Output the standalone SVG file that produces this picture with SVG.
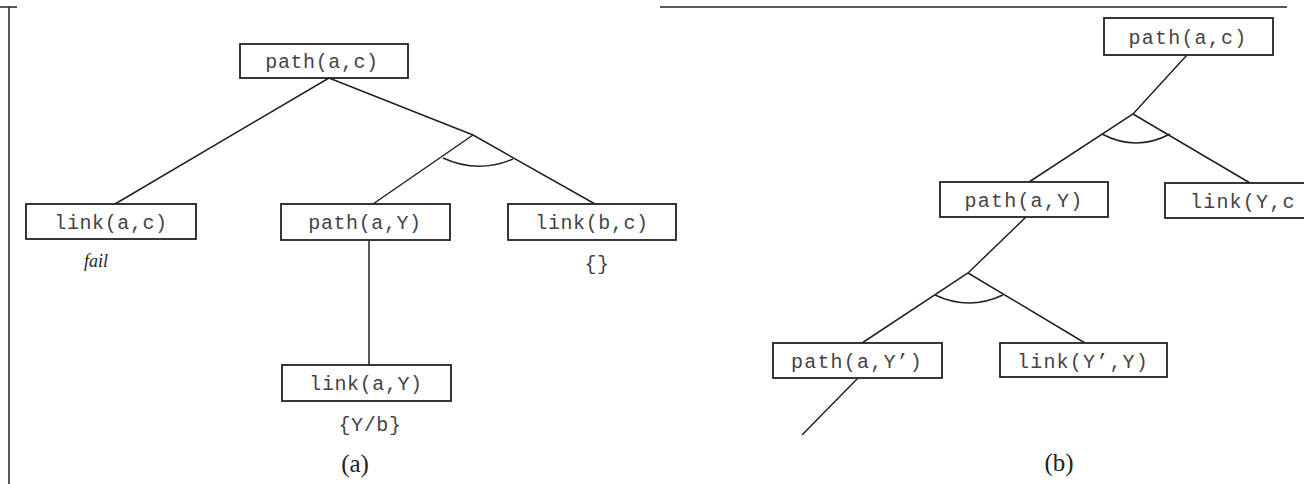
<svg xmlns="http://www.w3.org/2000/svg" width="1304" height="484" viewBox="0 0 1304 484">
<style>
.box{fill:#fff;stroke:#222;stroke-width:1.8}
.ln{fill:none;stroke:#222;stroke-width:1.5}
.t{font-family:"Liberation Mono","DejaVu Sans Mono",monospace;font-size:20px;fill:#444;text-anchor:middle;letter-spacing:0.6px}
.tb{letter-spacing:1.2px}
.lab{font-family:"Liberation Serif",serif;font-size:25px;fill:#222;text-anchor:middle}
.it{font-family:"Liberation Serif",serif;font-style:italic;font-size:18px;fill:#222;text-anchor:middle}
</style>
<rect width="1304" height="484" fill="#fff"/>
<g id="frame" class="ln">
<line x1="9" y1="7" x2="9" y2="484"/>
<line x1="0" y1="7" x2="17" y2="7"/>
<line x1="660" y1="7" x2="1287" y2="7"/>
</g>
<g id="connectors" class="ln">
<line x1="329" y1="78" x2="115" y2="204"/>
<polyline points="329,78 473,135 595,204"/>
<line x1="473" y1="135" x2="373" y2="204"/>
<path d="M443,158 Q478,174 513,159"/>
<line x1="369" y1="240" x2="369" y2="365"/>
<polyline points="1187,55 1133,114 1029,182"/>
<line x1="1133" y1="114" x2="1250" y2="183"/>
<path d="M1102,134 Q1136,152 1170,134"/>
<polyline points="1026,217 968,273 862,343"/>
<line x1="968" y1="273" x2="1085" y2="343"/>
<path d="M935,295 Q969,311 1003,295"/>
<line x1="858" y1="378" x2="802" y2="435"/>
</g>
<g id="a-path-ac"><rect class="box" x="240" y="44" width="168" height="34"/><text class="t" x="322" y="68">path(a,c)</text></g>
<g id="a-link-ac"><rect class="box" x="26" y="204" width="170" height="35"/><text class="t" x="111" y="229">link(a,c)</text><text class="it" x="96" y="267">fail</text></g>
<g id="a-path-aY"><rect class="box" x="281" y="204" width="169" height="36"/><text class="t" x="365" y="229">path(a,Y)</text></g>
<g id="a-link-bc"><rect class="box" x="508" y="204" width="168" height="36"/><text class="t" x="592" y="229">link(b,c)</text><text class="t" x="597" y="270">{}</text></g>
<g id="a-link-aY"><rect class="box" x="282" y="365" width="169" height="36"/><text class="t" x="366" y="390">link(a,Y)</text><text class="t" x="370" y="431">{Y/b}</text></g>
<g id="b-path-ac"><rect class="box" x="1104" y="18" width="169" height="37"/><text class="t tb" x="1188" y="44">path(a,c)</text></g>
<g id="b-path-aY"><rect class="box" x="940" y="182" width="168" height="35"/><text class="t tb" x="1024" y="207">path(a,Y)</text></g>
<g id="b-link-Yc"><rect class="box" x="1165" y="183" width="160" height="35"/><text class="t tb" x="1190" y="208" style="text-anchor:start">link(Y,c</text></g>
<g id="b-path-aY2"><rect class="box" x="773" y="343" width="169" height="35"/><text class="t tb" x="857" y="368">path(a,Y’)</text></g>
<g id="b-link-Y2Y"><rect class="box" x="1000" y="343" width="167" height="34"/><text class="t tb" x="1083" y="368">link(Y’,Y)</text></g>
<text class="lab" x="355" y="472">(a)</text>
<text class="lab" x="1059" y="471">(b)</text>
</svg>
